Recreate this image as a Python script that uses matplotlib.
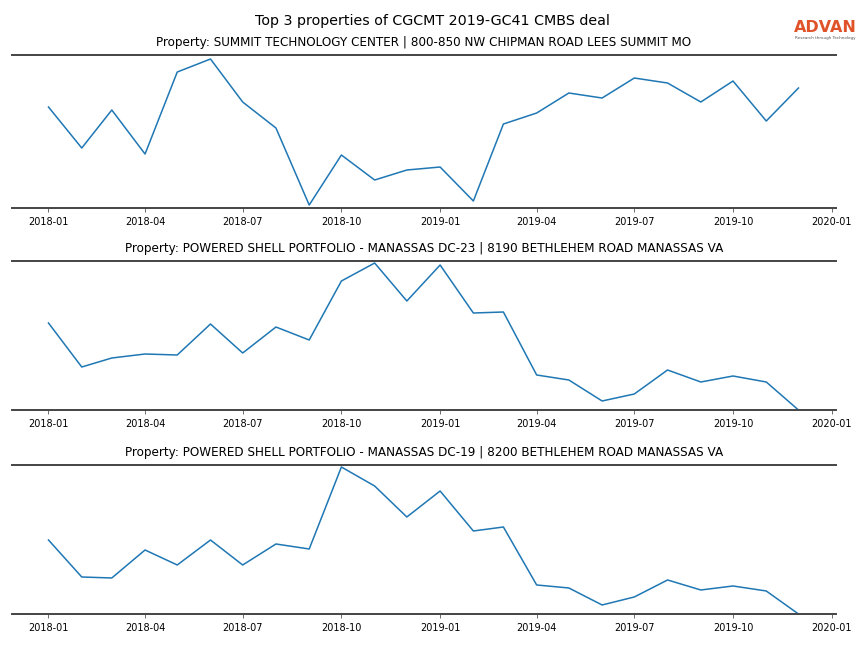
import matplotlib
matplotlib.use("Agg")
import matplotlib.dates as mdates
import matplotlib.pyplot as plt
import pandas as pd

months = pd.date_range("2018-01-01", periods=24, freq="MS")

titles = [
    "Property: SUMMIT TECHNOLOGY CENTER | 800-850 NW CHIPMAN ROAD LEES SUMMIT MO",
    "Property: POWERED SHELL PORTFOLIO - MANASSAS DC-23 | 8190 BETHLEHEM ROAD MANASSAS VA",
    "Property: POWERED SHELL PORTFOLIO - MANASSAS DC-19 | 8200 BETHLEHEM ROAD MANASSAS VA",
]

summit = [101, 60, 98, 54, 136, 149, 106, 80, 3, 53, 28, 38,
          41, 7, 84, 95, 115, 110, 130, 125, 106, 127, 87, 120]
dc23 = [87, 43, 52, 56, 55, 86, 57, 83, 70, 129, 147, 109,
        145, 97, 98, 35, 30, 9, 16, 40, 28, 34, 28, 0]
dc19 = [74, 37, 36, 64, 49, 74, 49, 70, 65, 147, 128, 97,
        123, 83, 87, 29, 26, 9, 17, 34, 24, 28, 23, 0]

series = [summit, dc23, dc19]
ytops = [153, 149, 149]

# axes boxes in figure fractions: left, bottom, width, height
boxes = [
    (0.0139, 0.679, 0.9537, 0.2361),
    (0.0139, 0.3673, 0.9537, 0.2299),
    (0.0139, 0.0525, 0.9537, 0.2299),
]

fig = plt.figure(figsize=(8.64, 6.48), dpi=100)
fig.suptitle("Top 3 properties of CGCMT 2019-GC41 CMBS deal", fontsize=10.3, y=0.979)

for vals, title, box, ytop in zip(series, titles, boxes, ytops):
    ax = fig.add_axes(box)
    ax.plot(months, vals, color="#1f77b4", linewidth=1.1)
    ax.set_ylim(0, ytop)
    ax.set_xlim(pd.Timestamp("2017-11-28"), pd.Timestamp("2020-01-05"))
    ax.set_title(title, fontsize=8.65, pad=6.5)
    ax.xaxis.set_major_locator(mdates.MonthLocator(bymonth=[1, 4, 7, 10]))
    ax.xaxis.set_major_formatter(mdates.DateFormatter("%Y-%m"))
    ax.tick_params(axis="x", labelsize=7, length=3, width=0.6, color="#555555")
    ax.set_yticks([])
    for side in ("left", "right"):
        ax.spines[side].set_visible(False)
    for side in ("top", "bottom"):
        ax.spines[side].set_linewidth(1.4)
        ax.spines[side].set_color("#444444")

fig.text(0.955, 0.958, "ADVAN", fontsize=11.5, fontweight="bold", color="#e0532a",
         ha="center", va="center")
fig.text(0.955, 0.941, "Research through Technology", fontsize=3, color="#555555",
         ha="center", va="center")

fig.savefig("out.png", dpi=100)
